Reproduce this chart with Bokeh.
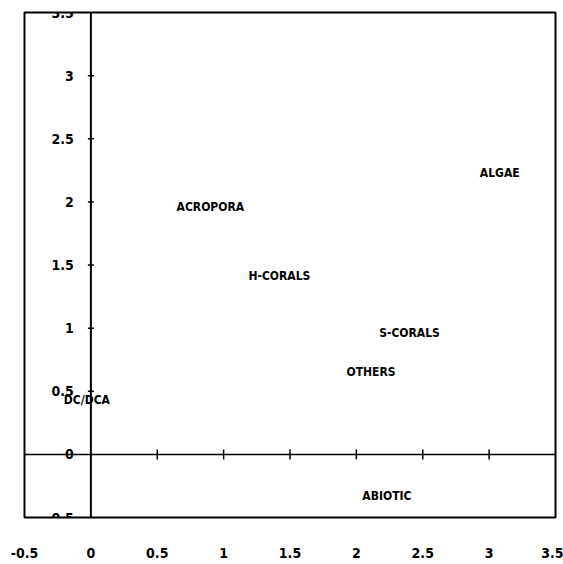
import math
from bokeh.plotting import figure
from bokeh.models import Span, Range1d, FixedTicker, ColumnDataSource
from bokeh.core.properties import value
from bokeh.embed import file_html
from bokeh.resources import INLINE

# ---- data ----
categories = ["ALGAE", "ACROPORA", "H-CORALS", "S-CORALS", "OTHERS", "DC/DCA", "ABIOTIC"]
x_vals = [3.08, 0.90, 1.42, 2.40, 2.11, -0.03, 2.23]
y_vals = [2.23, 1.96, 1.41, 0.96, 0.65, 0.43, -0.33]

x_ticks = [-0.5, 0, 0.5, 1, 1.5, 2, 2.5, 3, 3.5]
x_tick_labels = ["-0.5", "0", "0.5", "1", "1.5", "2", "2.5", "3", "3.5"]
y_ticks = [3.5, 3, 2.5, 2, 1.5, 1, 0.5, 0, -0.5]
y_tick_labels = ["3.5", "3", "2.5", "2", "1.5", "1", "0.5", "0", "-0.5"]

FONT = "'DejaVu Sans Condensed', 'DejaVu Sans', sans-serif"

p = figure(width=563, height=564,
           x_range=Range1d(-0.5, 3.5), y_range=Range1d(-0.5, 3.5),
           output_backend="svg", toolbar_location=None,
           y_axis_location=None,
           min_border_left=24, min_border_right=8, min_border_top=12,
           min_border_bottom=47)
p.grid.visible = False
p.outline_line_color = "black"
p.outline_line_width = 2
p.background_fill_color = "white"
p.border_fill_color = "white"

# bottom axis: labels only
p.xaxis.ticker = FixedTicker(ticks=x_ticks)
p.xaxis.major_label_overrides = dict(zip(x_ticks, x_tick_labels))
p.xaxis.axis_line_color = None
p.xaxis.major_tick_line_color = None
p.xaxis.minor_tick_line_color = None
p.xaxis.major_label_standoff = 24
p.xaxis.major_label_text_font = FONT
p.xaxis.major_label_text_font_size = "14px"
p.xaxis.major_label_text_font_style = "bold"
p.xaxis.major_label_text_color = "black"

# axis lines through origin
p.add_layout(Span(location=0, dimension="height", line_color="black", line_width=2))
p.add_layout(Span(location=0, dimension="width", line_color="black", line_width=1.5))

# tick marks on the origin axes
xt_inner = [t for t in x_ticks if 0 < t < 3.5]
p.scatter(x=xt_inner, y=[0] * len(xt_inner), marker="dash", angle=math.pi / 2,
          size=10, line_color="black", line_width=1.5)
yt_inner = [t for t in y_ticks if -0.5 < t < 3.5 and t != 0]
p.scatter(x=[0] * len(yt_inner), y=yt_inner, marker="dash",
          size=6, line_color="black", line_width=1.5)

# y tick labels next to the x=0 axis
p.text(x=[0] * len(y_ticks), y=y_ticks, text=y_tick_labels,
       x_offset=-17, text_align="right", text_baseline="middle",
       text_font=value(FONT), text_font_size="14px", text_font_style="bold",
       text_color="black")

# category labels
src = ColumnDataSource(dict(x=x_vals, y=y_vals, label=categories))
p.text(x="x", y="y", text="label", source=src,
       text_align="center", text_baseline="middle",
       text_font=value(FONT), text_font_size="12px", text_font_style="bold",
       text_color="black")

open("out.html", "w").write(file_html(p, INLINE))
